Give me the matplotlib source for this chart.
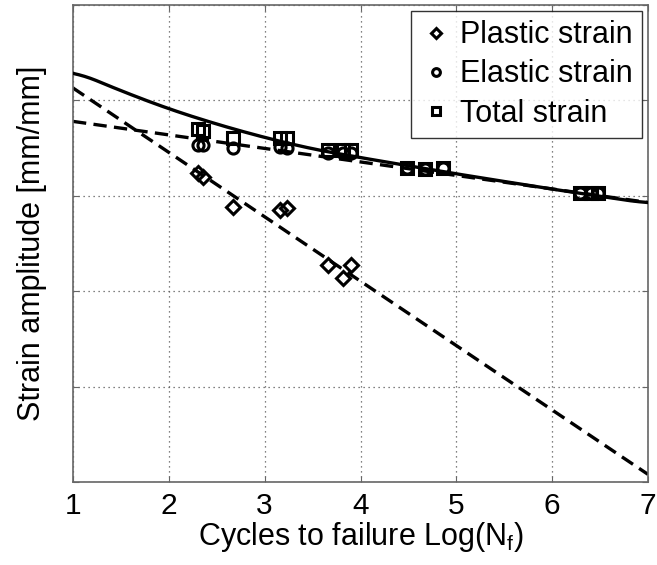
import matplotlib.pyplot as plt
import numpy as np

plt.rcParams['font.family'] = ['Liberation Sans', 'DejaVu Sans']
plt.rcParams['mathtext.fontset'] = 'custom'
plt.rcParams['mathtext.rm'] = 'Liberation Sans'
plt.rcParams['mathtext.it'] = 'Liberation Sans'

# measured points (log cycles to failure vs strain amplitude, arbitrary log units)
plastic_x = [2.30, 2.36, 2.67, 3.16, 3.23, 3.66, 3.82, 3.90]
plastic_y = [3.24, 3.20, 2.88, 2.85, 2.87, 2.27, 2.14, 2.27]

elastic_x = [2.30, 2.36, 2.67, 3.16, 3.23, 3.66, 3.82, 3.90, 4.49, 4.67, 4.86, 6.29, 6.40, 6.48]
elastic_y = [3.53, 3.53, 3.50, 3.51, 3.50, 3.45, 3.45, 3.45, 3.29, 3.28, 3.29, 3.03, 3.03, 3.03]

total_x = [2.30, 2.36, 2.67, 3.16, 3.23, 3.66, 3.82, 3.90, 4.49, 4.67, 4.86, 6.29, 6.40, 6.48]
total_y = [3.70, 3.68, 3.61, 3.61, 3.61, 3.48, 3.48, 3.48, 3.29, 3.28, 3.29, 3.03, 3.03, 3.03]

# fitted curves
plastic_fit_x = [1, 7]
plastic_fit_y = [4.13, 0.08]
elastic_fit_x = [1, 7]
elastic_fit_y = [3.78, 2.93]
total_fit_x = [1, 1.5, 2, 2.5, 3, 3.5, 4, 5, 6, 7]
total_fit_y = [4.31, 4.10, 3.91, 3.75, 3.61, 3.49, 3.40, 3.23, 3.07, 2.92]

fig = plt.figure(figsize=(6.57, 5.65), dpi=100)
ax = fig.add_axes([73 / 657, 83 / 565, 575 / 657, 477 / 565])

# smooth the total curve through the read points
tx = np.linspace(1, 7, 200)
ty = np.interp(tx, total_fit_x, total_fit_y)
ty = np.convolve(np.pad(ty, 8, mode='edge'), np.ones(17) / 17, mode='valid')

ax.plot(elastic_fit_x, elastic_fit_y, color='black', lw=2.4, ls=(0, (4, 2.2)), zorder=2)
ax.plot(plastic_fit_x, plastic_fit_y, color='black', lw=2.4, ls=(0, (4, 2.2)), zorder=2)
ax.plot(tx, ty, color='black', lw=2.4, zorder=3)

mk = dict(ls='none', mfc='none', mec='black', mew=2.2, ms=8, zorder=4)
ax.plot(plastic_x, plastic_y, marker='D', label='Plastic strain', **dict(mk, ms=7.5))
ax.plot(elastic_x, elastic_y, marker='o', label='Elastic strain', **mk)
ax.plot(total_x, total_y, marker='s', label='Total strain', **mk)

ax.set_xlim(1, 7)
ax.set_ylim(0, 5)
ax.set_xticks([1, 2, 3, 4, 5, 6, 7])
ax.set_yticks([0, 1, 2, 3, 4, 5])
ax.set_yticklabels([])
ax.tick_params(direction='in', top=True, right=True, labelsize=21.5, length=4,
               color='0.4', pad=7)
for s in ax.spines.values():
    s.set_color('0.4')
    s.set_linewidth(1.2)
ax.grid(True, ls=(0, (1, 3)), color='0.35', lw=0.9)

ax.set_xlabel('Cycles to failure Log(N$_\\mathrm{f}$)', fontsize=22, labelpad=0)
ax.set_ylabel('Strain amplitude [mm/mm]', fontsize=22, labelpad=12)

leg = ax.legend(loc='upper right', fontsize=22, frameon=True, fancybox=False,
                edgecolor='black', borderpad=0.3, handletextpad=0.3,
                handlelength=1.0, labelspacing=0.3, borderaxespad=0.2,
                markerscale=0.7)
leg.get_frame().set_linewidth(1.0)

fig.savefig('out.png', dpi=100)
